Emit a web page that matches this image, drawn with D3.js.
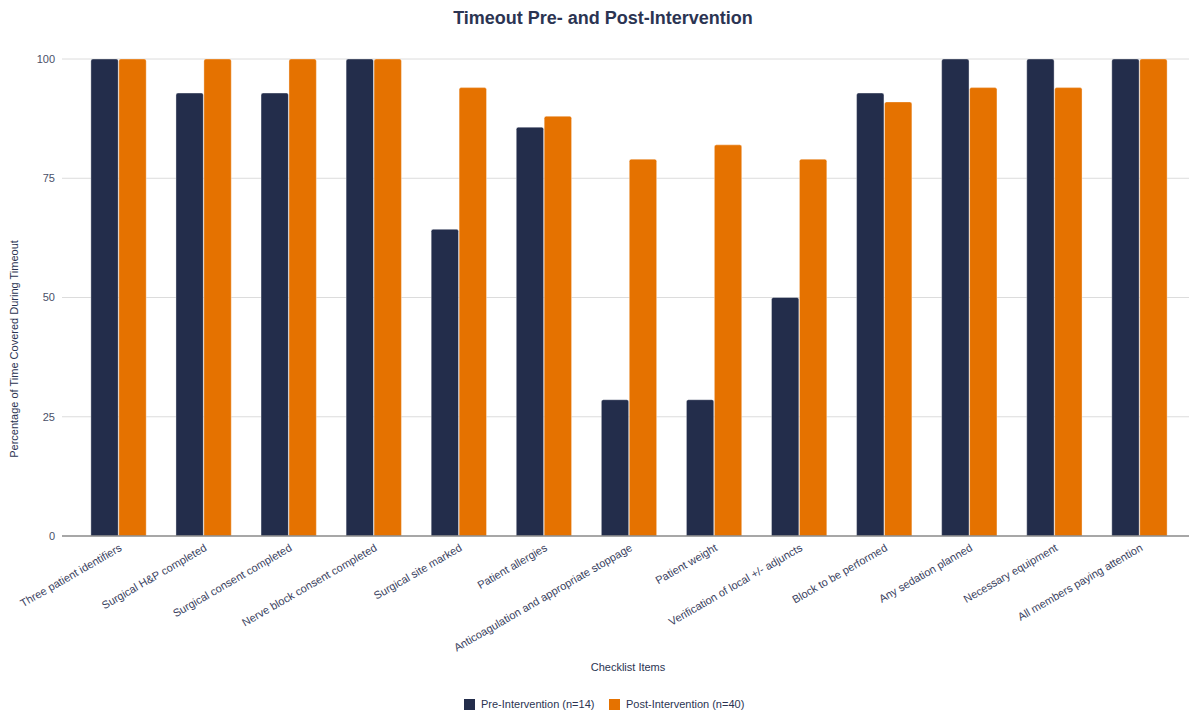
<!DOCTYPE html>
<html>
<head>
<meta charset="utf-8">
<script src="https://cdn.jsdelivr.net/npm/d3@7"></script>
<style>
  body { margin: 0; background: #fff; }
  svg { font-family: "Liberation Sans", Arial, sans-serif; }
</style>
</head>
<body>
<svg id="chart" width="1189" height="713"></svg>
<script>
// checklist items and percentages
const categories = [
  "Three patient identifiers",
  "Surgical H&P completed",
  "Surgical consent completed",
  "Nerve block consent completed",
  "Surgical site marked",
  "Patient allergies",
  "Anticoagulation and appropriate stoppage",
  "Patient weight",
  "Verification of local +/- adjuncts",
  "Block to be performed",
  "Any sedation planned",
  "Necessary equipment",
  "All members paying attention"
];
const preValues = [100, 92.86, 92.86, 100, 64.29, 85.71, 28.57, 28.57, 50, 92.86, 100, 100, 100];
const postValues = [100, 100, 100, 100, 94, 88, 79, 82, 79, 91, 94, 94, 100];
const seriesNames = ["Pre-Intervention (n=14)", "Post-Intervention (n=40)"];
const seriesColors = ["#232D4B", "#E57200"];
const yTicks = [0, 25, 50, 75, 100];

const textColor = "#2b3452";
const svg = d3.select("#chart");

const plotLeft = 62, plotRight = 1189, plotTop = 59, plotBottom = 536;

const x = d3.scaleBand()
  .domain(categories)
  .range([76, 1182])
  .paddingInner(0.35)
  .paddingOuter(0.175);

const x1 = d3.scaleBand()
  .domain([0, 1])
  .range([0, x.bandwidth()])
  .paddingInner(0.02);

const y = d3.scaleLinear()
  .domain([0, 100])
  .range([plotBottom, plotTop]);

// title
svg.append("text")
  .attr("x", 603).attr("y", 24)
  .attr("text-anchor", "middle")
  .attr("font-size", 18).attr("font-weight", "bold")
  .attr("fill", textColor)
  .text("Timeout Pre- and Post-Intervention");

// gridlines + y labels
const yAxis = svg.append("g");
yAxis.selectAll("line")
  .data(yTicks.filter(d => d > 0))
  .join("line")
  .attr("x1", plotLeft).attr("x2", plotRight)
  .attr("y1", d => y(d)).attr("y2", d => y(d))
  .attr("stroke", "#dcdcdc").attr("stroke-width", 1);
yAxis.selectAll("text")
  .data(yTicks)
  .join("text")
  .attr("x", 55).attr("y", d => y(d))
  .attr("dy", "0.35em")
  .attr("text-anchor", "end")
  .attr("font-size", 11)
  .attr("fill", "#4a5068")
  .text(d => d);

// bars
const groups = svg.append("g").selectAll("g")
  .data(categories)
  .join("g")
  .attr("transform", d => `translate(${x(d)},0)`);

groups.selectAll("path")
  .data((d, i) => [preValues[i], postValues[i]])
  .join("path")
  .attr("d", (v, j) => {
    const bx = x1(j), bw = x1.bandwidth(), top = y(v), r = 2;
    return `M${bx},${plotBottom}V${top + r}Q${bx},${top} ${bx + r},${top}` +
      `H${bx + bw - r}Q${bx + bw},${top} ${bx + bw},${top + r}V${plotBottom}Z`;
  })
  .attr("fill", (v, j) => seriesColors[j])
  .attr("stroke", "#ffffff").attr("stroke-opacity", 0.6).attr("stroke-width", 0.6);

// zero line
svg.append("line")
  .attr("x1", plotLeft).attr("x2", plotRight)
  .attr("y1", y(0)).attr("y2", y(0))
  .attr("stroke", "#8a8a8a").attr("stroke-width", 1.5);

// x labels, rotated
svg.append("g").selectAll("text")
  .data(categories)
  .join("text")
  .attr("transform", d => `translate(${x(d) + x.bandwidth() / 2 + 4},${plotBottom + 14}) rotate(-30)`)
  .attr("text-anchor", "end")
  .attr("font-size", 11)
  .attr("fill", "#3a4260")
  .text(d => d);

// axis titles
svg.append("text")
  .attr("transform", "translate(18,349) rotate(-90)")
  .attr("text-anchor", "middle")
  .attr("font-size", 11)
  .attr("fill", textColor)
  .text("Percentage of Time Covered During Timeout");

svg.append("text")
  .attr("x", 628).attr("y", 671)
  .attr("text-anchor", "middle")
  .attr("font-size", 11)
  .attr("fill", textColor)
  .text("Checklist Items");

// legend
const legendX = [464, 609];
const legend = svg.append("g").selectAll("g")
  .data(seriesNames)
  .join("g")
  .attr("transform", (d, i) => `translate(${legendX[i]},699)`);
legend.append("rect")
  .attr("width", 11).attr("height", 11)
  .attr("fill", (d, i) => seriesColors[i]);
legend.append("text")
  .attr("x", 17).attr("y", 5.5).attr("dy", "0.35em")
  .attr("font-size", 11)
  .attr("fill", textColor)
  .text(d => d);
</script>
</body>
</html>
